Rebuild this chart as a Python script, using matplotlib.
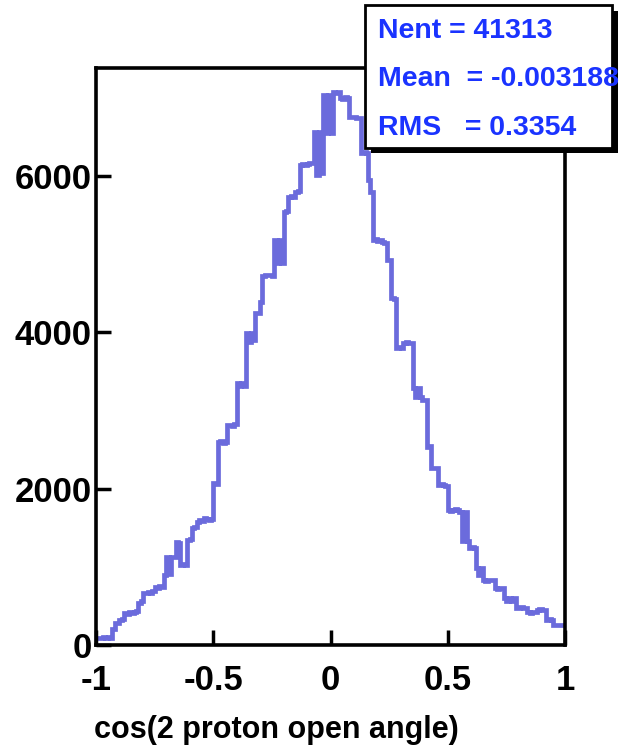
import numpy as np
import matplotlib.pyplot as plt
from matplotlib.patches import Rectangle

plt.rcParams['font.family'] = ['Liberation Sans', 'DejaVu Sans']
plt.rcParams['font.weight'] = 'bold'

# histogram contents, 200 bins over [-1, 1]
counts = [
    90, 95, 90, 100, 95, 100, 95, 200, 280, 280,
    320, 330, 410, 400, 420, 410, 420, 430, 540, 560,
    660, 670, 680, 665, 690, 740, 730, 750, 745, 900,
    1120, 910, 1130, 1130, 1320, 1310, 1030, 1040, 1030, 1340,
    1350, 1500, 1510, 1580, 1600, 1590, 1620, 1610, 1600, 1610,
    2070, 2060, 2600, 2610, 2590, 2600, 2815, 2820, 2800, 2830,
    3350, 3320, 3350, 3320, 3990, 3880, 3990, 3900, 4250, 4250,
    4390, 4720, 4740, 4730, 4740, 4720, 5180, 4890, 5180, 4890,
    5540, 5550, 5730, 5740, 5730, 5800, 5810, 6140, 6150, 6140,
    6160, 6170, 6170, 6570, 6020, 6570, 6040, 7040, 6550, 7040,
    6550, 7070, 7060, 7080, 7000, 6990, 7010, 7000, 6760, 6750,
    6760, 6745, 6740, 6300, 6310, 6300, 5950, 5790, 5180, 5190,
    5170, 5180, 5160, 5150, 4930, 4920, 4440, 4430, 3800, 3810,
    3800, 3870, 3880, 3870, 3870, 3290, 3175, 3290, 3175, 3140,
    3130, 2535, 2540, 2265, 2270, 2260, 2050, 2060, 2050, 2040,
    1730, 1720, 1730, 1740, 1730, 1700, 1330, 1700, 1330, 1240,
    1250, 1240, 985, 900, 985, 830, 820, 830, 835, 830,
    730, 720, 730, 725, 600, 560, 600, 560, 600, 475,
    470, 480, 470, 475, 420, 415, 420, 425, 450, 455,
    450, 445, 320, 330, 320, 256, 250, 255, 250, 255,
]
x_ticks = [-1, -0.5, 0, 0.5, 1]
x_tick_labels = ['-1', '-0.5', '0', '0.5', '1']
y_ticks = [0, 2000, 4000, 6000]
stat_names = ['Nent = ', 'Mean  = ', 'RMS   = ']
stat_values = ['41313', '-0.003188', '0.3354']

W, H = 627, 747
fig = plt.figure(figsize=(W / 100, H / 100), dpi=100)
ax = fig.add_axes([96 / W, 1 - 645 / H, (565 - 96) / W, (645 - 68) / H])

edges = np.linspace(-1, 1, len(counts) + 1)
ax.stairs(counts, edges, color='#6b6bdc', linewidth=3.4, baseline=None)

ax.set_xlim(-1, 1)
ax.set_ylim(0, 7383)
ax.set_xticks(x_ticks)
ax.set_xticklabels(x_tick_labels)
ax.set_yticks(y_ticks)
ax.tick_params(axis='both', direction='in', length=11, width=2.5,
               top=False, right=False)
ax.tick_params(axis='x', labelsize=25, pad=14)
ax.tick_params(axis='y', labelsize=25, pad=3)
for sp in ax.spines.values():
    sp.set_linewidth(2.6)

ax.set_xlabel('cos(2 proton open angle)', fontsize=22, fontweight='bold')
ax.xaxis.set_label_coords(0.385, -0.122)

# stats box with drop shadow
def fx(px):
    return px / W


def fy(py):
    return 1 - py / H


fig.patches.append(Rectangle((fx(371), fy(153)), fx(618) - fx(371), fy(11) - fy(153),
                             transform=fig.transFigure, facecolor='black',
                             edgecolor='none', zorder=5))
fig.patches.append(Rectangle((fx(365), fy(148)), fx(612) - fx(365), fy(5) - fy(148),
                             transform=fig.transFigure, facecolor='white',
                             edgecolor='black', linewidth=2, zorder=6))
for i, (name, val) in enumerate(zip(stat_names, stat_values)):
    fig.text(fx(378), fy(31 + i * 48.5), name + val, color='#1a33ff',
             fontsize=20.5, fontweight='bold', va='center', ha='left', zorder=7)

fig.savefig('out.png', dpi=100)
